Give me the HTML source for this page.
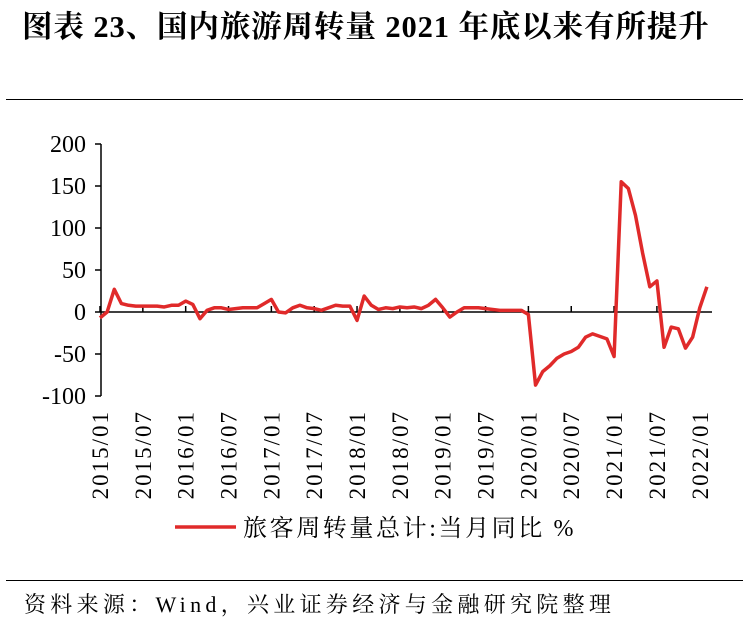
<!DOCTYPE html>
<html><head><meta charset="utf-8"><style>
body{margin:0;background:#fff;width:743px;height:618px;overflow:hidden;font-family:"Liberation Serif","Noto Serif CJK SC",serif;}
</style></head><body>
<div style="position:absolute;left:22px;top:2px;font-size:30.5px;font-weight:bold;letter-spacing:0.9px;white-space:nowrap;font-family:'Liberation Serif','Noto Serif CJK SC',serif">图表 23、国内旅游周转量 2021 年底以来有所提升</div>
<div style="position:absolute;left:6px;top:99px;width:737px;height:1px;background:#000"></div>
<div style="position:absolute;left:6px;top:580px;width:737px;height:1px;background:#000"></div>
<div style="position:absolute;left:24px;top:588px;font-size:22px;letter-spacing:4.3px;white-space:nowrap">资料来源：Wind，兴业证券经济与金融研究院整理</div>
<svg id="chart" width="743" height="618" style="position:absolute;left:0;top:0"></svg>
<script>
const months=["2015/01","2015/07","2016/01","2016/07","2017/01","2017/07","2018/01","2018/07","2019/01","2019/07","2020/01","2020/07","2021/01","2021/07","2022/01"];
const yTicks=[200,150,100,50,0,-50,-100];
const values=[-7,0,27,10,8,7,7,7,7,6,8,8,
13,9,-8,2,5,5,3,4,5,5,5,10,
15,0,-1,5,8,5,4,2,5,8,7,7,
-10,19,8,3,5,4,6,5,6,4,8,15,
5,-6,0,5,5,5,4,3,2,2,2,2,
-3,-87,-71,-64,-55,-50,-47,-42,-30,-26,-29,-32,
-53,155,147,115,70,30,37,-42,-18,-20,-43,-30,
5,30];
const NS="http://www.w3.org/2000/svg";
const svg=document.getElementById('chart');
const x=i=>100+i*7.14;
const y=v=>312-v*0.84;
function mk(t,a){const e=document.createElementNS(NS,t);for(const k in a)e.setAttribute(k,a[k]);svg.appendChild(e);return e;}
let e=mk('line',{x1:101,y1:y(200),x2:101,y2:y(-100),stroke:'#000','stroke-width':1.5});


yTicks.forEach(v=>{
 const t=mk('line',{x1:95,x2:101,y1:y(v),y2:y(v),stroke:'#000','stroke-width':1.5});
 
 
 const l=mk('text',{x:86,y:y(v)+8,'text-anchor':'end','font-size':24,'font-family':'Liberation Serif, serif'});
 l.textContent=v;
 
 
});
e=mk('line',{x1:101,y1:y(0),x2:712,y2:y(0),stroke:'#000','stroke-width':1.5});


months.forEach((m,k)=>{
 const xi=x(k*6);
 const t=mk('line',{x1:xi,x2:xi,y1:y(0),y2:y(0)-6,stroke:'#000','stroke-width':1.5});
 
 
 const l=mk('text',{x:0,y:0,'text-anchor':'end','font-size':23,'letter-spacing':2,'font-family':'Liberation Serif, serif',transform:`translate(${xi+8},410) rotate(-90)`});
 l.textContent=m;
 
 
});
e=mk('polyline',{points:values.map((v,i)=>x(i)+','+y(v)).join(' '),fill:'none',stroke:'#e02a2a','stroke-width':3.5,'stroke-linejoin':'round'});


e=mk('line',{x1:175,x2:236,y1:527,y2:527,stroke:'#e02a2a','stroke-width':3.5});


e=mk('text',{x:243,y:536,'font-size':24,'letter-spacing':2.6,'font-family':'Liberation Serif, Noto Serif CJK SC, serif'});
e.textContent='旅客周转量总计:当月同比 %';


</script>
</body></html>
